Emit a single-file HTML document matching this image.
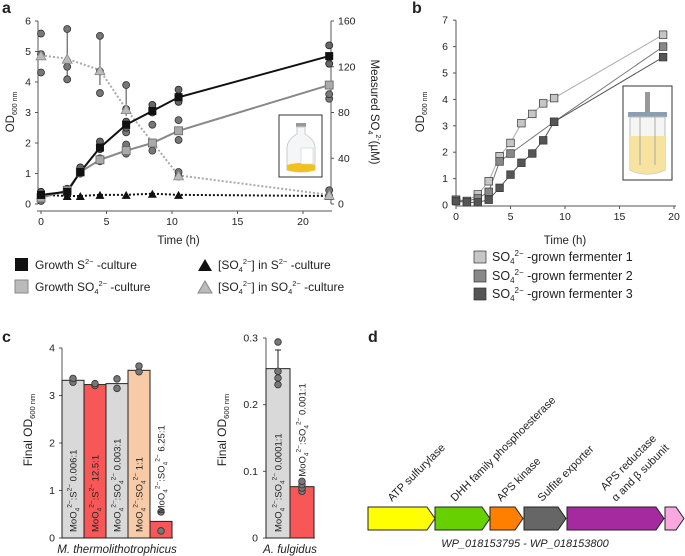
<!DOCTYPE html>
<html><head><meta charset="utf-8">
<style>
html,body{margin:0;padding:0;background:#fff;}
svg{display:block;font-family:"Liberation Sans",sans-serif;}
text{fill:#222;}
</style></head>
<body>
<svg id="fig" width="685" height="556" viewBox="0 0 685 556" xmlns="http://www.w3.org/2000/svg">
<text x="2" y="13" font-size="16" font-weight="bold">a</text>
<text x="412" y="13" font-size="16" font-weight="bold">b</text>
<text x="2" y="342" font-size="16" font-weight="bold">c</text>
<text x="368" y="342" font-size="16" font-weight="bold">d</text>

<g id="pa"></g>
<g id="pb"></g>
<g id="pc"></g>

<g>
<rect x="279" y="115" width="43" height="62" fill="#fff" stroke="#333" stroke-width="1"/>
<rect x="296" y="123" width="10" height="4" fill="#999"/>
<path d="M297,127 L297,134 Q287,140 287,148 L287,170 Q301,174 315,170 L315,148 Q315,140 305,134 L305,127 Z" fill="#f4f6f8" stroke="#ccc"/>
<path d="M287,165 Q301,161 315,165 L315,170 Q301,174 287,170 Z" fill="#f2c21a"/>
<rect x="301" y="148" width="12" height="16" fill="#fff" stroke="#ccc" stroke-width="0.6"/>
</g>
<g>
<rect x="623" y="86" width="49" height="94" fill="#fff" stroke="#333" stroke-width="1"/>
<rect x="645" y="92" width="5" height="20" fill="#999"/>
<rect x="628" y="112" width="39" height="5" fill="#8a9fb0"/>
<path d="M630,117 L630,170 Q647,178 665,170 L665,117 Z" fill="#f5f5f3" stroke="#bbb"/>
<path d="M630,136 L665,136 L665,170 Q647,178 630,170 Z" fill="#f6e3a0"/>
<line x1="640" y1="117" x2="640" y2="165" stroke="#aaa"/>
<line x1="655" y1="117" x2="655" y2="165" stroke="#aaa"/>
</g>

<g>
<polygon points="368,507 427,507 435,518.5 427,530 368,530" fill="#ffff00" stroke="#222" stroke-width="1"/>
<polygon points="435,507 482,507 490,518.5 482,530 435,530" fill="#66d000" stroke="#222" stroke-width="1"/>
<polygon points="490,507 515,507 523,518.5 515,530 490,530" fill="#ff8000" stroke="#222" stroke-width="1"/>
<polygon points="524,507 558,507 566,518.5 558,530 524,530" fill="#666" stroke="#222" stroke-width="1"/>
<polygon points="567,507 656,507 664,518.5 656,530 567,530" fill="#a52a9f" stroke="#222" stroke-width="1"/>
<polygon points="665,507 676,507 684,518.5 676,530 665,530" fill="#f9a8e0" stroke="#222" stroke-width="1"/>
<g font-size="11">
<text transform="translate(392,502) rotate(-45)">ATP sulfurylase</text>
<text transform="translate(455,502) rotate(-45)">DHH family phosphoesterase</text>
<text transform="translate(501,502) rotate(-45)">APS kinase</text>
<text transform="translate(542,502) rotate(-45)">Sulfite exporter</text>
<text transform="translate(605,491) rotate(-45)">APS reductase</text>
<text transform="translate(616,502) rotate(-45)">α and β subunit</text>
</g>
<text x="525" y="547" font-size="11" font-style="italic" text-anchor="middle">WP_018153795 - WP_018153800</text>
</g>

<script>
// ---------- Panel a data ----------
var aTimes = [0, 2, 3, 4.5, 6.5, 8.5, 10.5, 22];
var growthS = [0.3, 0.4, 1.05, 1.85, 2.6, 3.05, 3.5, 4.85];
var growthSO4 = [0.2, 0.45, 1.05, 1.45, 1.75, 2.0, 2.4, 3.9];
var sulfInS = [8, 7, 7, 8, 8, 9, 8, 7];
var sulfTimes = [0, 2, 4.5, 6.5, 10.5, 22];
var sulfVals = [130, 127, 117, 83, 25, 8];
var sulfErrLo = [130, 107, 104, 77, 24, 7];
var sulfErrHi = [130, 153, 147, 104, 28, 12];
var repS = [[0.25,0.35,0.4],[0.3,0.45,0.5],[1.0,1.1,1.2],[1.8,1.9,2.05],[2.5,2.6,2.7],[3.0,3.1,3.25],[3.35,3.55,3.75],[4.6,4.8,5.2]];
var repSO4 = [[0.1,0.2,0.3],[0.4,0.5],[1.0,1.1],[1.4,1.5],[1.65,1.85,1.95,2.35],[1.75,2.0,2.6],[2.1,2.4,2.75],[3.45,3.6]];
var repSulf = [[149,131,115],[153,120,109],[147,116,97],[104,83,63],[28,24],[12,7]];
var aXTicks = [0, 5, 10, 15, 20];
var aYTicks = [0, 1, 2, 3, 4, 5, 6];
var aY2Ticks = [0, 40, 80, 120, 160];

// ---------- Panel b data ----------
var bT1 = [0,1,2,3,4,5,6,7,8,9,19];
var bF1 = [0.2,0.15,0.4,0.9,1.85,2.35,3.1,3.45,3.85,4.05,6.45];
var bT2 = [0,1,2,3,4,5,9,19];
var bF2 = [0.2,0.15,0.25,0.5,1.65,1.95,3.15,6.0];
var bT3 = [0,1,2,3,4,5,6,7,8,9,19];
var bF3 = [0.15,0.1,0.1,0.2,0.65,1.15,1.6,1.95,2.45,3.15,5.6];
var bXTicks = [0, 5, 10, 15, 20];
var bYTicks = [0,1,2,3,4,5,6,7];

// ---------- Panel c data ----------
var cMtValues = [3.32, 3.23, 3.25, 3.53, 0.35];
var cMtReps = [[3.28,3.36],[3.21,3.25],[3.15,3.35],[3.5,3.62],[0.15,0.55]];
var cMtLabels = ["0.006:1","12.5:1","0.003:1","1:1","6.25:1"];
var cMtKind = ["S","S","SO4","SO4","SO4"];
var cMtColors = ["#d9d9d9","#f75757","#d9d9d9","#f7caa8","#f75757"];
var cMtTicks = [0,1,2,3,4];
var cAfValues = [0.254, 0.077];
var cAfReps = [[0.23,0.24,0.25,0.294],[0.07,0.075,0.08,0.085]];
var cAfLabels = ["0.0001:1","0.001:1"];
var cAfColors = ["#d9d9d9","#f75757"];
var cAfErr = [0.282, 0.077];
var cAfTicks = [0, 0.1, 0.2, 0.3];

var NS = "http://www.w3.org/2000/svg";
function mk(parent, tag, attrs, txt){
  var e = document.createElementNS(NS, tag);
  for (var k in attrs) e.setAttribute(k, attrs[k]);
  if (txt !== undefined) e.textContent = txt;
  parent.appendChild(e);
  return e;
}
function rich(el, parts, small){
  var off = 0;
  parts.forEach(function(p){
    var target = p[1]==='sub' ? 3 : (p[1]==='sup' ? -5 : 0);
    var a = {dy: target - off};
    if (p[1]) a['font-size'] = small;
    mk(el,'tspan',a,p[0]);
    off = target;
  });
}

// ===== Panel a =====
var pa = document.getElementById('pa');
function ax(t){ return 41 + t * 13.1; }
function ay(v){ return 204 - v * 30.5; }
function ay2(v){ return 204 - v * 183/160; }
var l, e;
l = mk(pa,'line',{x1:37,y1:211,x2:332,y2:211,stroke:'#555','stroke-width':1});
 
l = mk(pa,'line',{x1:38,y1:ay(6),x2:38,y2:ay(0),stroke:'#555','stroke-width':1});
 
l = mk(pa,'line',{x1:331,y1:ay2(160),x2:331,y2:ay2(0),stroke:'#555','stroke-width':1});
 
aXTicks.forEach(function(t){
  mk(pa,'line',{x1:ax(t),y1:211,x2:ax(t),y2:214,stroke:'#555'});
  var e2 = mk(pa,'text',{x:ax(t),y:225,'font-size':10.5,'text-anchor':'middle'},String(t));
   
});
aYTicks.forEach(function(v){
  mk(pa,'line',{x1:35,y1:ay(v),x2:38,y2:ay(v),stroke:'#555'});
  var e2 = mk(pa,'text',{x:31,y:ay(v)+3.5,'font-size':10.5,'text-anchor':'end'},String(v));
   
});
aY2Ticks.forEach(function(v){
  mk(pa,'line',{x1:331,y1:ay2(v),x2:334,y2:ay2(v),stroke:'#555'});
  var e2 = mk(pa,'text',{x:338,y:ay2(v)+3.5,'font-size':10.5},String(v));
   
});
e = mk(pa,'text',{x:ax(10.5),y:244,'font-size':11.5,'text-anchor':'middle'},'Time (h)');
 
e = mk(pa,'text',{transform:'translate(14,112) rotate(-90)','font-size':11.5,'text-anchor':'middle'});
rich(e, [['OD',null],['600 nm','sub']], 7);
 
e = mk(pa,'text',{transform:'translate(371,112) rotate(90)','font-size':11.5,'text-anchor':'middle'});
rich(e, [['Measured SO',null],['4','sub'],['2-','sup'],['(µM)',null]], 7);
 

function poly(g, xs, ys, fx, fy, stroke, w, dash, name){
  var p = xs.map(function(x,i){ return fx(x)+','+fy(ys[i]); }).join(' ');
  var el = mk(g,'polyline',{points:p,fill:'none',stroke:stroke,'stroke-width':w});
  if (dash) el.setAttribute('stroke-dasharray', dash);
  
  
}
poly(pa, sulfTimes, sulfVals, ax, ay2, '#aaa', 2, '2,2', 'a-sulfate-so4-line');
poly(pa, aTimes, sulfInS, ax, ay2, '#111', 2, '2,2', 'a-sulfate-s-line');
sulfTimes.forEach(function(t,i){
  var b = mk(pa,'line',{x1:ax(t),y1:ay2(sulfErrLo[i]),x2:ax(t),y2:ay2(sulfErrHi[i]),stroke:'#444','stroke-width':1});
   
});
sulfTimes.forEach(function(t,i){
  repSulf[i].forEach(function(v){
    var c = mk(pa,'circle',{cx:ax(t),cy:ay2(v),r:3.5,fill:'#777',stroke:'#333','stroke-width':0.8});
     
  });
});
poly(pa, aTimes, growthSO4, ax, ay, '#888', 2, null, 'a-growth-so4-line');
poly(pa, aTimes, growthS, ax, ay, '#111', 2, null, 'a-growth-s-line');
aTimes.forEach(function(t,i){
  repSO4[i].forEach(function(v){
    var c = mk(pa,'circle',{cx:ax(t),cy:ay(v),r:3.5,fill:'#777',stroke:'#333','stroke-width':0.8});
     
  });
  repS[i].forEach(function(v){
    var c = mk(pa,'circle',{cx:ax(t),cy:ay(v),r:3.5,fill:'#666',stroke:'#222','stroke-width':0.8});
     
  });
});
aTimes.forEach(function(t,i){
  var s;
  s = mk(pa,'rect',{x:ax(t)-4,y:ay(growthSO4[i])-4,width:8,height:8,fill:'#aaa',stroke:'#666','stroke-width':0.8});
   
  s = mk(pa,'rect',{x:ax(t)-4,y:ay(growthS[i])-4,width:8,height:8,fill:'#111'});
   
  var x = ax(t), y = ay2(sulfInS[i]);
  s = mk(pa,'polygon',{points:(x-4.5)+','+(y+4)+' '+x+','+(y-4)+' '+(x+4.5)+','+(y+4),fill:'#111'});
   
});
sulfTimes.forEach(function(t,i){
  var x = ax(t), y = ay2(sulfVals[i]);
  var s = mk(pa,'polygon',{points:(x-5)+','+(y+4.5)+' '+x+','+(y-4.5)+' '+(x+5)+','+(y+4.5),fill:'#bbb',stroke:'#888','stroke-width':0.8});
   
});
var lg = mk(pa,'g',{});
 
mk(lg,'rect',{x:15,y:258,width:13,height:13,fill:'#111'});
e = mk(lg,'text',{x:35,y:269,'font-size':12});
rich(e, [['Growth S',null],['2−','sup'],[' -culture',null]], 7.5);
 
mk(lg,'rect',{x:15,y:280,width:13,height:13,fill:'#bbb',stroke:'#888'});
e = mk(lg,'text',{x:35,y:291,'font-size':12});
rich(e, [['Growth SO',null],['4','sub'],['2−','sup'],[' -culture',null]], 7.5);
 
mk(lg,'polygon',{points:'198,271 205,259 212,271',fill:'#111'});
e = mk(lg,'text',{x:218,y:269,'font-size':12});
rich(e, [['[SO',null],['4','sub'],['2−','sup'],['] in S',null],['2−','sup'],[' -culture',null]], 7.5);
 
mk(lg,'polygon',{points:'198,293 205,281 212,293',fill:'#bbb',stroke:'#888'});
e = mk(lg,'text',{x:218,y:291,'font-size':12});
rich(e, [['[SO',null],['4','sub'],['2−','sup'],['] in SO',null],['4','sub'],['2−','sup'],[' -culture',null]], 7.5);
 

// ===== Panel b =====
var pb = document.getElementById('pb');
function bx(t){ return 456 + t * 10.9; }
function by(v){ return 205 - v * 26.4; }
l = mk(pb,'line',{x1:456,y1:206,x2:676,y2:206,stroke:'#555'});
 
l = mk(pb,'line',{x1:456,y1:by(7),x2:456,y2:206,stroke:'#555'});
 
bXTicks.forEach(function(t){
  mk(pb,'line',{x1:bx(t),y1:206,x2:bx(t),y2:209,stroke:'#555'});
  var e2 = mk(pb,'text',{x:bx(t),y:220,'font-size':10.5,'text-anchor':'middle'},String(t));
   
});
bYTicks.forEach(function(v){
  mk(pb,'line',{x1:453,y1:by(v),x2:456,y2:by(v),stroke:'#555'});
  var e2 = mk(pb,'text',{x:448,y:by(v)+3.5,'font-size':10.5,'text-anchor':'end'},String(v));
   
});
e = mk(pb,'text',{x:565,y:244,'font-size':11.5,'text-anchor':'middle'},'Time (h)');
 
e = mk(pb,'text',{transform:'translate(424,112) rotate(-90)','font-size':11.5,'text-anchor':'middle'});
rich(e, [['OD',null],['600 nm','sub']], 7);
 
var bSeries = [[bT1,bF1,'#c6c6c6','#aaa'],[bT2,bF2,'#888','#777'],[bT3,bF3,'#555','#555']];
bSeries.forEach(function(s,k){
  poly(pb, s[0], s[1], bx, by, s[3], 1, null, 'b-fermenter-'+(k+1)+'-line');
});
bSeries.forEach(function(s,k){
  s[0].forEach(function(t,i){
    var r = mk(pb,'rect',{x:bx(t)-3.8,y:by(s[1][i])-3.8,width:7.6,height:7.6,fill:s[2],stroke:'#333','stroke-width':0.7});
     
  });
});
var lgb = mk(pb,'g',{});
 
[['#c6c6c6','1',261],['#888','2',280],['#555','3',298]].forEach(function(a){
  mk(lgb,'rect',{x:474,y:a[2]-10,width:12,height:12,fill:a[0],stroke:'#333','stroke-width':0.7});
  var t = mk(lgb,'text',{x:492,y:a[2],'font-size':12.5});
  rich(t, [['SO',null],['4','sub'],['2−','sup'],[' -grown fermenter '+a[1],null]], 8);
   
});

// ===== Panel c =====
var pc = document.getElementById('pc');
function cy1(v){ return 538 - v * 47.5; }
function cy2(v){ return 538 - v * 666.7; }
l = mk(pc,'line',{x1:62,y1:cy1(4),x2:62,y2:538,stroke:'#555'});
 
l = mk(pc,'line',{x1:62,y1:538,x2:173,y2:538,stroke:'#555'});
 
cMtTicks.forEach(function(v){
  mk(pc,'line',{x1:59,y1:cy1(v),x2:62,y2:cy1(v),stroke:'#555'});
  var t = mk(pc,'text',{x:55,y:cy1(v)+3.5,'font-size':10.5,'text-anchor':'end'},String(v));
   
});
e = mk(pc,'text',{transform:'translate(32,430) rotate(-90)','font-size':12,'text-anchor':'middle'});
rich(e, [['Final OD',null],['600 nm','sub']], 7.5);
 
var bw = 22;
cMtValues.forEach(function(v,i){
  var x0 = 62 + i * bw;
  var r = mk(pc,'rect',{x:x0,y:cy1(v),width:bw,height:538-cy1(v),fill:cMtColors[i],stroke:'#222','stroke-width':1});
   
  cMtReps[i].forEach(function(d){
    var c = mk(pc,'circle',{cx:x0+bw/2,cy:cy1(d),r:3.3,fill:'#777',stroke:'#333','stroke-width':0.8});
     
  });
  var ty = (v < 1) ? cy1(v) - 8 : 532;
  var t = mk(pc,'text',{transform:'translate('+(x0+bw/2+3.5)+','+ty+') rotate(-90)','font-size':9.5});
  var parts = [['MoO',null],['4','sub'],['2−','sup']];
  if (cMtKind[i]==='S') parts = parts.concat([[':S',null],['2−','sup']]);
  else parts = parts.concat([[':SO',null],['4','sub'],['2−','sup']]);
  parts.push([' '+cMtLabels[i],null]);
  rich(t, parts, 6.5);
   
});
e = mk(pc,'text',{x:117,y:553,'font-size':11.5,'font-style':'italic','text-anchor':'middle'},'M. thermolithotrophicus');
 

l = mk(pc,'line',{x1:266,y1:cy2(0.3),x2:266,y2:538,stroke:'#555'});
 
l = mk(pc,'line',{x1:266,y1:538,x2:315,y2:538,stroke:'#555'});
 
cAfTicks.forEach(function(v){
  mk(pc,'line',{x1:263,y1:cy2(v),x2:266,y2:cy2(v),stroke:'#555'});
  var t = mk(pc,'text',{x:258,y:cy2(v)+3.5,'font-size':10.5,'text-anchor':'end'},String(v));
   
});
e = mk(pc,'text',{transform:'translate(226,430) rotate(-90)','font-size':12,'text-anchor':'middle'});
rich(e, [['Final OD',null],['600 nm','sub']], 7.5);
 
var bw2 = 24;
cAfValues.forEach(function(v,i){
  var x0 = 266 + i * bw2;
  if (cAfErr[i] > v) {
    var eb = mk(pc,'line',{x1:x0+bw2/2,y1:cy2(cAfErr[i]),x2:x0+bw2/2,y2:cy2(v),stroke:'#222'});
     
    mk(pc,'line',{x1:x0+bw2/2-3,y1:cy2(cAfErr[i]),x2:x0+bw2/2+3,y2:cy2(cAfErr[i]),stroke:'#222'});
  }
  var r = mk(pc,'rect',{x:x0,y:cy2(v),width:bw2,height:538-cy2(v),fill:cAfColors[i],stroke:'#222','stroke-width':1});
   
  cAfReps[i].forEach(function(d){
    var c = mk(pc,'circle',{cx:x0+bw2/2,cy:cy2(d),r:3.3,fill:'#777',stroke:'#333','stroke-width':0.8});
     
  });
  var ty = (v < 0.15) ? cy2(v) - 10 : 532;
  var t = mk(pc,'text',{transform:'translate('+(x0+bw2/2+3.5)+','+ty+') rotate(-90)','font-size':9.5});
  rich(t, [['MoO',null],['4','sub'],['2−','sup'],[':SO',null],['4','sub'],['2−','sup'],[' '+cAfLabels[i],null]], 6.5);
   
});
e = mk(pc,'text',{x:290,y:553,'font-size':11.5,'font-style':'italic','text-anchor':'middle'},'A. fulgidus');
 
</script>
</svg>
</body></html>
